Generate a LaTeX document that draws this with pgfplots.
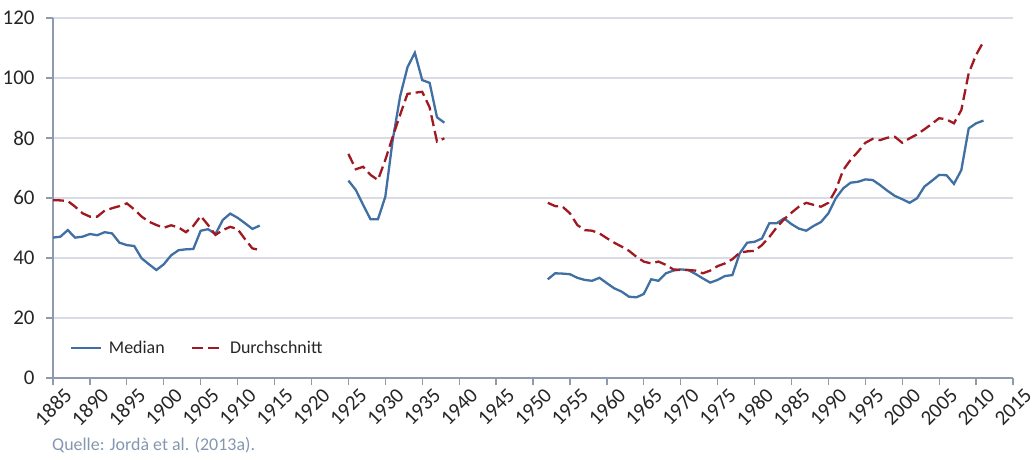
\documentclass[border=0pt]{standalone}
\usepackage{pgfplots}
\usepackage{pgfplotstable}
\pgfplotsset{compat=1.18}
\usepackage{fontspec}
\setmainfont{Carlito}
\definecolor{medblue}{HTML}{3F6FA3}
\definecolor{avgred}{HTML}{A01820}
\definecolor{gridc}{HTML}{D9DCE5}
\definecolor{axc}{HTML}{8F9AAE}
\definecolor{txt}{HTML}{262626}
\definecolor{src}{HTML}{8497B0}
\newcommand{\tfont}{\fontsize{21}{24}\selectfont}

\pgfplotstableread{
year val
1885 46.8
1886 47.1
1887 49.3
1888 46.8
1889 47.1
1890 48.0
1891 47.6
1892 48.6
1893 48.2
1894 45.1
1895 44.3
1896 44.0
1897 39.9
1898 37.9
1899 36.0
1900 37.9
1901 40.9
1902 42.6
1903 42.9
1904 43.0
1905 49.1
1906 49.6
1907 48.0
1908 52.7
1909 54.8
1910 53.4
1911 51.6
1912 49.7
1913 50.8
1914 nan
1925 65.8
1926 62.7
1927 57.7
1928 52.9
1929 52.9
1930 60.4
1931 79.3
1932 93.8
1933 103.6
1934 108.4
1935 99.3
1936 98.4
1937 86.9
1938 85.1
1939 nan
1952 32.9
1953 34.9
1954 34.8
1955 34.6
1956 33.4
1957 32.7
1958 32.4
1959 33.4
1960 31.6
1961 29.9
1962 28.8
1963 27.1
1964 26.9
1965 28.0
1966 32.9
1967 32.4
1968 34.9
1969 35.8
1970 36.2
1971 36.0
1972 34.7
1973 33.2
1974 31.8
1975 32.7
1976 34.0
1977 34.3
1978 41.6
1979 45.1
1980 45.4
1981 46.5
1982 51.6
1983 51.6
1984 53.2
1985 51.3
1986 49.8
1987 49.1
1988 50.7
1989 52.0
1990 54.9
1991 59.9
1992 63.2
1993 65.1
1994 65.4
1995 66.2
1996 66.0
1997 64.3
1998 62.4
1999 60.7
2000 59.6
2001 58.4
2002 59.9
2003 63.8
2004 65.7
2005 67.7
2006 67.6
2007 64.7
2008 69.3
2009 83.2
2010 84.9
2011 85.8
}\median

\pgfplotstableread{
year val
1885 59.3
1886 59.2
1887 59.0
1888 57.1
1889 54.9
1890 53.8
1891 53.8
1892 55.8
1893 56.6
1894 57.3
1895 58.2
1896 56.2
1897 53.8
1898 52.1
1899 51.0
1900 50.1
1901 50.9
1902 50.2
1903 48.6
1904 50.7
1905 54.0
1906 51.0
1907 47.7
1908 49.3
1909 50.4
1910 49.6
1911 46.3
1912 43.2
1913 42.7
1914 nan
1925 74.7
1926 69.6
1927 70.4
1928 67.7
1929 66.0
1930 72.7
1931 80.4
1932 87.7
1933 94.7
1934 95.1
1935 95.4
1936 90.2
1937 78.8
1938 79.9
1939 nan
1952 58.4
1953 57.3
1954 57.1
1955 54.9
1956 51.0
1957 49.3
1958 49.1
1959 48.2
1960 46.6
1961 45.1
1962 43.8
1963 42.4
1964 40.4
1965 38.8
1966 38.2
1967 38.8
1968 37.7
1969 36.2
1970 36.0
1971 36.0
1972 35.8
1973 34.9
1974 35.8
1975 37.3
1976 38.2
1977 39.6
1978 41.8
1979 42.2
1980 42.4
1981 44.3
1982 47.0
1983 50.2
1984 52.9
1985 55.1
1986 57.1
1987 58.4
1988 57.7
1989 57.1
1990 58.4
1991 62.7
1992 69.3
1993 72.7
1994 75.4
1995 78.4
1996 79.7
1997 79.3
1998 80.1
1999 80.4
2000 78.4
2001 79.9
2002 81.2
2003 82.9
2004 84.7
2005 86.6
2006 86.2
2007 84.9
2008 89.3
2009 101.6
2010 107.7
2011 112.1
}\avg

\begin{document}
\begin{tikzpicture}
\path[use as bounding box] (0bp,0bp) rectangle (1035bp,-460bp);
\begin{axis}[
  at={(53bp,-378bp)}, anchor=south west,
  scale only axis, width=960bp, height=360bp,
  xmin=1885, xmax=2015, ymin=0, ymax=120,
  xtick distance=5, ytick distance=20,
  axis x line*=bottom, axis y line*=left,
  axis line style={axc, line width=1.3bp},
  tick style={axc, line width=1.3bp},
  tick align=outside, major tick length=7bp,
  ymajorgrids, grid style={gridc, line width=1.3bp},
  xticklabel={\tfont\pgfmathprintnumber[1000 sep={},assume math mode=true]{\tick}},
  yticklabel={\tfont\pgfmathprintnumber[assume math mode=true]{\tick}},
  tick label style={text=txt},
  xticklabel style={yshift=-22bp, rotate=45, anchor=center},
  yticklabel style={anchor=east, xshift=-8bp},
  unbounded coords=jump,
  legend style={at={(0.014,0.083)}, anchor=west, draw=none, fill=none,
    font=\fontsize{18}{21}\selectfont, text=txt,
    /tikz/every odd column/.append style={column sep=5bp},
    /tikz/every even column/.append style={column sep=24bp}},
  legend columns=2,
  legend image code/.code={\draw[#1] (0bp,0bp) -- (30bp,0bp);},
]
\addplot[medblue, line width=2.3bp] table[x=year,y=val] {\median};
\addlegendentry{Median}
\addplot[avgred, line width=2.3bp, dash pattern=on 11bp off 5bp] table[x=year,y=val] {\avg};
\addlegendentry{Durchschnitt}
\end{axis}
\node[anchor=west, text=src, font=\fontsize{18}{21}\selectfont, inner sep=0pt] at (52bp,-445bp) {Quelle: Jordà et al. (2013a).};
\end{tikzpicture}
\end{document}
